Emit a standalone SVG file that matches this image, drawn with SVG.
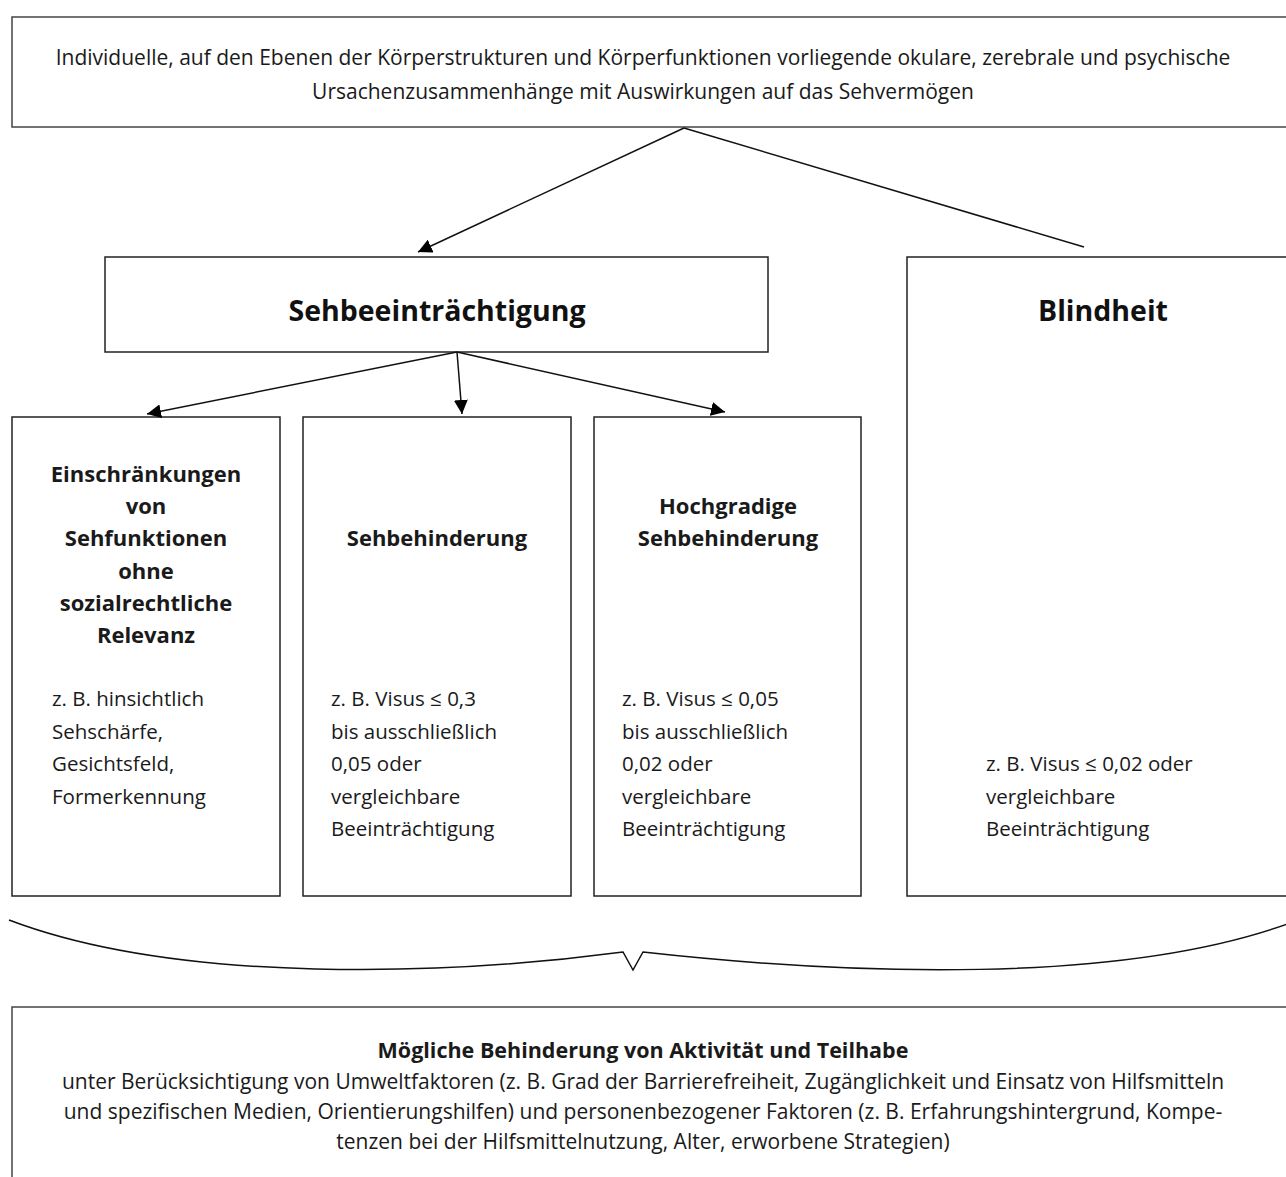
<svg xmlns="http://www.w3.org/2000/svg" width="1286" height="1177" viewBox="0 0 1286 1177">
<style>
.box{fill:#fff;stroke:#222;stroke-width:1.5}
.t{font-family:"Open Sans","Noto Sans","Liberation Sans",sans-serif;font-size:21px;fill:#1a1a1a}
.s{font-size:20.5px}
.b{font-weight:bold;font-size:22px}
.bb{font-weight:bold;font-size:21.5px}
.c{text-anchor:middle}
.h{font-family:"Open Sans","Noto Sans","Liberation Sans",sans-serif;font-size:28.5px;font-weight:bold;fill:#111;text-anchor:middle}
.ln{fill:none;stroke:#111;stroke-width:1.5}
</style>
<defs>
<marker id="ah2" viewBox="0 0 14 14" refX="14" refY="7" markerWidth="14" markerHeight="14" markerUnits="userSpaceOnUse" orient="auto"><path d="M0,0 L14,7 L0,14 z" fill="#000"/></marker>
</defs>
<g id="top">
<rect class="box" x="12" y="17" width="1290" height="110" style="stroke:#444"/>
<text class="t c" x="643" y="65">Individuelle, auf den Ebenen der Körperstrukturen und Körperfunktionen vorliegende okulare, zerebrale und psychische</text>
<text class="t c" x="643" y="99">Ursachenzusammenhänge mit Auswirkungen auf das Sehvermögen</text>
</g>
<g id="sehbeeintraechtigung">
<rect class="box" x="105" y="257" width="663" height="95"/>
<text class="h" x="437" y="321">Sehbeeinträchtigung</text>
</g>
<g id="blindheit">
<rect class="box" x="907" y="257" width="400" height="639"/>
<text class="h" x="1103" y="321">Blindheit</text>
<text class="t s" x="986" y="771">z. B. Visus ≤ 0,02 oder</text>
<text class="t s" x="986" y="804">vergleichbare</text>
<text class="t s" x="986" y="836">Beeinträchtigung</text>
</g>
<g id="einschraenkungen">
<rect class="box" x="12" y="417" width="268" height="479"/>
<text class="t b c" x="146" y="482">Einschränkungen</text>
<text class="t b c" x="146" y="514">von</text>
<text class="t b c" x="146" y="546">Sehfunktionen</text>
<text class="t b c" x="146" y="579">ohne</text>
<text class="t b c" x="146" y="611">sozialrechtliche</text>
<text class="t b c" x="146" y="643">Relevanz</text>
<text class="t s" x="52" y="706">z. B. hinsichtlich</text>
<text class="t s" x="52" y="739">Sehschärfe,</text>
<text class="t s" x="52" y="771">Gesichtsfeld,</text>
<text class="t s" x="52" y="804">Formerkennung</text>
</g>
<g id="sehbehinderung">
<rect class="box" x="303" y="417" width="268" height="479"/>
<text class="t b c" x="437" y="546">Sehbehinderung</text>
<text class="t s" x="331" y="706">z. B. Visus ≤ 0,3</text>
<text class="t s" x="331" y="739">bis ausschließlich</text>
<text class="t s" x="331" y="771">0,05 oder</text>
<text class="t s" x="331" y="804">vergleichbare</text>
<text class="t s" x="331" y="836">Beeinträchtigung</text>
</g>
<g id="hochgradige">
<rect class="box" x="594" y="417" width="267" height="479"/>
<text class="t b c" x="728" y="514">Hochgradige</text>
<text class="t b c" x="728" y="546">Sehbehinderung</text>
<text class="t s" x="622" y="706">z. B. Visus ≤ 0,05</text>
<text class="t s" x="622" y="739">bis ausschließlich</text>
<text class="t s" x="622" y="771">0,02 oder</text>
<text class="t s" x="622" y="804">vergleichbare</text>
<text class="t s" x="622" y="836">Beeinträchtigung</text>
</g>
<g id="teilhabe">
<rect class="box" x="12" y="1007" width="1300" height="200" style="stroke:#444"/>
<text class="t bb c" x="643" y="1058">Mögliche Behinderung von Aktivität und Teilhabe</text>
<text class="t c" x="643" y="1089">unter Berücksichtigung von Umweltfaktoren (z. B. Grad der Barrierefreiheit, Zugänglichkeit und Einsatz von Hilfsmitteln</text>
<text class="t c" x="643" y="1119">und spezifischen Medien, Orientierungshilfen) und personenbezogener Faktoren (z. B. Erfahrungshintergrund, Kompe-</text>
<text class="t c" x="643" y="1149">tenzen bei der Hilfsmittelnutzung, Alter, erworbene Strategien)</text>
</g>
<g id="connectors">
<path class="ln" d="M684,128 L418,252" marker-end="url(#ah2)"/>
<path class="ln" d="M684,128 L1084,247"/>
<path class="ln" d="M457,352 L147,414" marker-end="url(#ah2)"/>
<path class="ln" d="M457,352 L462,414" marker-end="url(#ah2)"/>
<path class="ln" d="M457,352 L725,412" marker-end="url(#ah2)"/>
<path class="ln" d="M9,920 C180,985 450,975 623,952 L633,970 L643,952 C850,975 1120,985 1290,923"/>
</g>
</svg>
